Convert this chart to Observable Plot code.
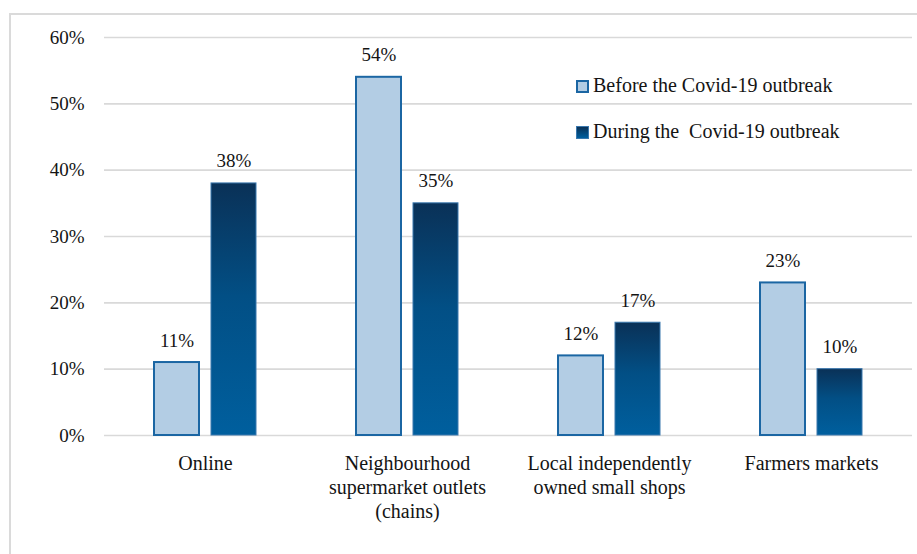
<!DOCTYPE html>
<html>
<head>
<meta charset="utf-8">
<script src="https://cdn.jsdelivr.net/npm/d3@7"></script>
<script src="https://cdn.jsdelivr.net/npm/@observablehq/plot@0.6"></script>
<style>
  body { margin: 0; background: #fff; }
  #wrap { position: relative; width: 917px; height: 554px; overflow: hidden; font-family: "Liberation Serif", serif; color: #141414; }
  #frame { position: absolute; left: 9px; top: 13px; width: 940px; height: 580px; border: 2px solid #dadada; box-sizing: border-box; pointer-events: none; }
  #chart { position: absolute; left: 0; top: 0; }
  .lg-row { position: absolute; left: 576px; height: 20px; line-height: 20px; font-size: 20px; white-space: pre; }
  .lg-box { position: absolute; left: 0; top: 5px; width: 13px; height: 13px; box-sizing: border-box; }
  .lg-text { position: absolute; left: 17px; top: 0; }
</style>
</head>
<body>
<div id="wrap">
  <div id="chart"></div>
  <div id="frame"></div>
</div>
<script>
// Retail channels used for food shopping, before vs during the outbreak
const categories = [
  "Online",
  "Neighbourhood supermarket outlets (chains)",
  "Local independently owned small shops",
  "Farmers markets"
];
const categoryLabels = [
  "Online",
  "Neighbourhood\nsupermarket outlets\n(chains)",
  "Local independently\nowned small shops",
  "Farmers markets"
];
const series = ["Before the Covid-19 outbreak", "During the  Covid-19 outbreak"];
const beforeValues = [11, 54, 12, 23];
const duringValues = [38, 35, 17, 10];
const yTicks = [0, 10, 20, 30, 40, 50, 60];

const rows = categories.flatMap((c, i) => [
  { category: c, series: series[0], value: beforeValues[i] },
  { category: c, series: series[1], value: duringValues[i] }
]);

const beforeFill = "#b3cde4";
const beforeStroke = "#1b66a3";
const duringStops = [
  [0, "#0a3157"],
  [0.45, "#024f85"],
  [1, "#005f9e"]
];

// vertical gradient used by the "during" bars
const gradientDefs = () => {
  const defs = d3.create("svg:defs");
  const g = defs.append("linearGradient")
    .attr("id", "duringFill")
    .attr("x1", 0).attr("x2", 0).attr("y1", 0).attr("y2", 1);
  duringStops.forEach(([o, c]) => g.append("stop").attr("offset", o).attr("stop-color", c));
  return defs.node();
};

const chart = Plot.plot({
  width: 917,
  height: 554,
  marginTop: 37,
  marginBottom: 119,
  marginLeft: 104,
  marginRight: 5,
  style: { fontFamily: "Liberation Serif, serif", fontSize: "19px", color: "#141414", background: "transparent" },
  fx: { domain: categories, padding: 0, axis: null, label: null },
  x: { domain: series, paddingInner: 0.207, paddingOuter: 0.845, axis: null, label: null },
  y: { domain: [0, 60], ticks: yTicks, tickFormat: d => d + "%", tickSize: 0, tickPadding: 20, label: null },
  marks: [
    gradientDefs,
    Plot.ruleY(yTicks, { stroke: "#d9d9d9", strokeWidth: 1.6 }),
    Plot.barY(rows.filter(d => d.series === series[0]), {
      fx: "category", x: "series", y: "value",
      fill: beforeFill, stroke: beforeStroke, strokeWidth: 2
    }),
    Plot.barY(rows.filter(d => d.series === series[1]), {
      fx: "category", x: "series", y: "value",
      fill: "url(#duringFill)", stroke: "#3a78ae", strokeWidth: 1
    }),
    Plot.text(rows, {
      fx: "category", x: "series", y: "value",
      text: d => d.value + "%",
      lineAnchor: "bottom", dy: -16, fontSize: 19, fill: "#141414"
    }),
    Plot.text(categories, {
      fx: d => d,
      text: (d, i) => categoryLabels[i],
      frameAnchor: "bottom", lineAnchor: "top", dy: 17,
      fontSize: 20, lineHeight: 1.2, fill: "#141414"
    })
  ]
});
document.getElementById("chart").appendChild(chart);

// legend inside the plot area, upper right
const wrap = document.getElementById("wrap");
const legendBoxes = [
  { background: beforeFill, border: `2px solid ${beforeStroke}` },
  { background: "linear-gradient(#0a3157, #005f9e)", border: "1px solid #3a78ae" }
];
series.forEach((s, i) => {
  const row = document.createElement("div");
  row.className = "lg-row";
  row.style.top = (75 + i * 46) + "px";
  const box = document.createElement("div");
  box.className = "lg-box";
  box.style.background = legendBoxes[i].background;
  box.style.border = legendBoxes[i].border;
  const text = document.createElement("div");
  text.className = "lg-text";
  text.textContent = s;
  row.appendChild(box);
  row.appendChild(text);
  wrap.appendChild(row);
});
</script>
</body>
</html>
